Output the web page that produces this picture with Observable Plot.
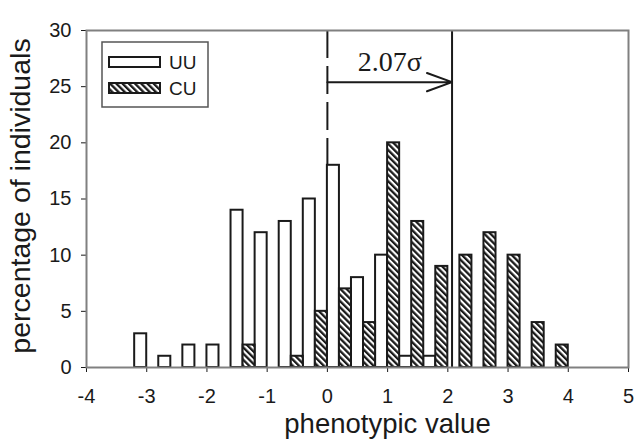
<!DOCTYPE html>
<html><head><meta charset="utf-8">
<script src="https://cdn.jsdelivr.net/npm/d3@7"></script>
<script src="https://cdn.jsdelivr.net/npm/@observablehq/plot@0.6"></script>
<style>body{margin:0;background:#fff} #chart{position:relative;width:637px;height:441px}</style>
</head><body><div id="chart"></div>
<script>
// Data
const binStarts = [-3.2,-2.8,-2.4,-2.0,-1.6,-1.2,-0.8,-0.4,0,0.4,0.8,1.2,1.6,2.0,2.4,2.8,3.2,3.6];
const uuValues  = [3,1,2,2,14,12,13,15,18,8,10,1,1,0,0,0,0,0];
const cuValues  = [0,0,0,0,2,0,1,5,7,4,20,13,9,10,12,10,4,2];
const groups = ["UU","CU"];
const binWidth = 0.4;
const xTicks = [-4,-3,-2,-1,0,1,2,3,4,5];
const yTicks = [0,5,10,15,20,25,30];
const shift = 2.07;
const annotLabel = "2.07σ";
const arrowLevel = 25.4;
const labelLevel = 27.2;
const dashTop = 30;
const xLabel = "phenotypic value";
const yLabel = "percentage of individuals";

const uuRows = [], cuRows = [];
binStarts.forEach((b,i)=>{
  if (uuValues[i] > 0) uuRows.push({x1:b, x2:b+binWidth/2, y:uuValues[i]});
  if (cuValues[i] > 0) cuRows.push({x1:b+binWidth/2, x2:b+binWidth, y:cuValues[i]});
});

const ink = "#1a1a1a";
const plot = Plot.plot({
  width:637, height:441,
  marginLeft:86, marginRight:9, marginTop:30, marginBottom:74,
  style:{fontFamily:"'Liberation Sans', Arial, sans-serif", fontSize:"20px", color:ink, background:"#fff", overflow:"visible"},
  x:{domain:[-4,5]},
  y:{domain:[0,30]},
  marks:[
    Plot.ruleX([0],{y1:dashTop, y2:0, stroke:ink, strokeWidth:2, strokeDasharray:"28,8"}),
    Plot.rectY(uuRows,{x1:"x1", x2:"x2", y:"y", fill:"white", stroke:ink, strokeWidth:2}),
    Plot.rectY(cuRows,{x1:"x1", x2:"x2", y:"y", fill:"url(#hatch)", stroke:ink, strokeWidth:2}),
    Plot.ruleX([shift],{stroke:ink, strokeWidth:2}),
    Plot.arrow([{x1:0, x2:shift, y:arrowLevel}],{x1:"x1", x2:"x2", y1:"y", y2:"y", stroke:ink, strokeWidth:2, headLength:20, headAngle:40}),
    Plot.text([annotLabel],{x:shift/2, y:labelLevel, text:d=>d, fontFamily:"'Liberation Serif', 'Times New Roman', serif", fontSize:28, fill:ink}),
    Plot.axisX({ticks:xTicks, tickFormat:d=>String(d), tickSize:5, tickPadding:16, label:null, fontSize:20}),
    Plot.axisY({ticks:yTicks, tickFormat:d=>String(d), tickSize:5, tickPadding:10, label:null, fontSize:20}),
    Plot.text([xLabel],{frameAnchor:"bottom", lineAnchor:"middle", textAnchor:"middle", text:d=>d, dx:30, dy:57, fontSize:27.5, fill:ink}),
    Plot.text([yLabel],{frameAnchor:"left", lineAnchor:"middle", textAnchor:"middle", text:d=>d, rotate:-90, dx:-66, dy:-3, fontSize:28.5, fill:ink}),
    Plot.frame({stroke:"#808080", strokeWidth:2})
  ]
});
document.getElementById("chart").appendChild(plot);

// hatch pattern
const svg = d3.select(plot);
const defs = svg.insert("defs", ":first-child");
const pat = defs.append("pattern").attr("id","hatch").attr("patternUnits","userSpaceOnUse")
  .attr("width",4.4).attr("height",4.4).attr("patternTransform","rotate(-45)");
pat.append("rect").attr("width",4.4).attr("height",4.4).attr("fill","white");
pat.append("rect").attr("width",2.3).attr("height",4.4).attr("fill",ink);

// legend (inside plot area, top-left)
const lg = svg.append("g").attr("class","legend");
lg.append("rect").attr("x",102).attr("y",42).attr("width",106).attr("height",65)
  .attr("fill","white").attr("stroke","#555").attr("stroke-width",1.5);
groups.forEach((g,i)=>{
  const yy = 57 + i*26;
  lg.append("rect").attr("x",109).attr("y",yy).attr("width",51).attr("height",10)
    .attr("fill", g==="UU" ? "white" : "url(#hatch)").attr("stroke",ink).attr("stroke-width",2);
  lg.append("text").attr("x",169).attr("y",yy+5).attr("dy","0.35em").attr("text-anchor","start")
    .attr("font-size",19).attr("fill",ink).text(g);
});
</script>
</body></html>
